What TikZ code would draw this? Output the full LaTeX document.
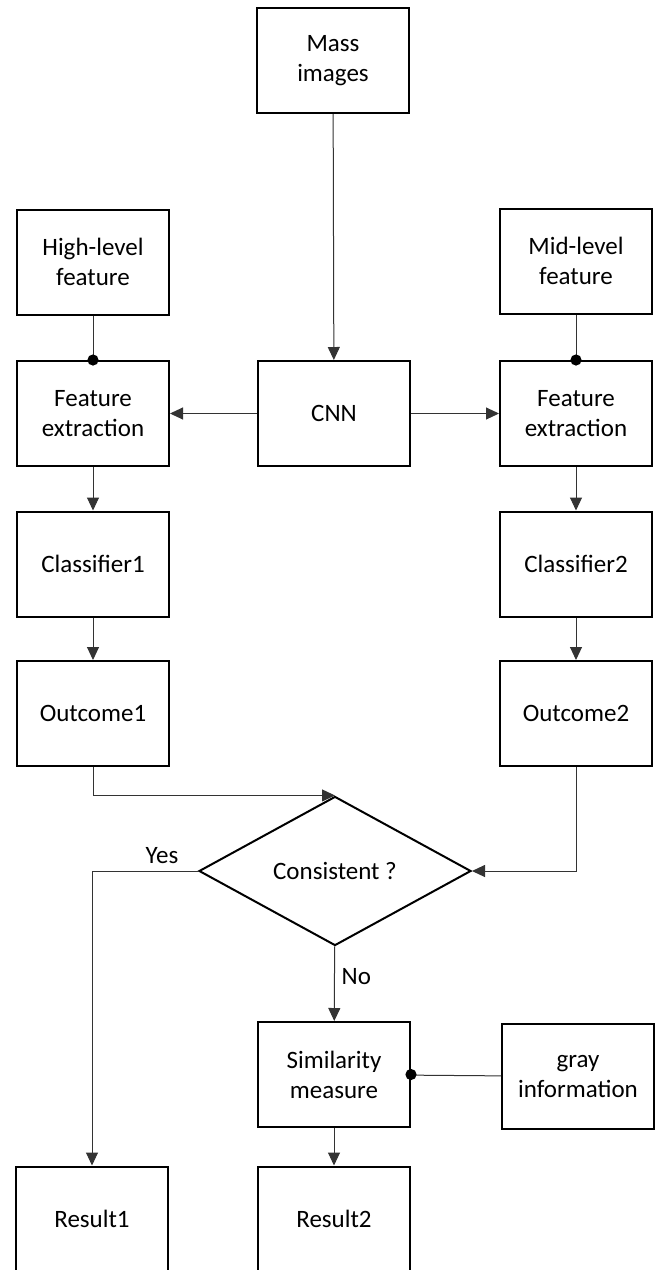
\documentclass[tikz,border=0pt]{standalone}
\usepackage{fontspec}
\setmainfont{Carlito}
\usetikzlibrary{shapes.geometric,arrows.meta}

\tikzset{
  box/.style={draw, line width=1pt, minimum width=76pt, minimum height=52.5pt, align=center, inner sep=2pt},
  decision/.style={draw, diamond, line width=1pt, minimum width=136pt, minimum height=74pt, inner sep=1pt},
  flow/.style={-{Triangle[width=6pt,length=6.5pt]}, line width=0.5pt, draw=black!80},
  link/.style={line width=0.5pt, draw=black!80},
}

\begin{document}
\begin{tikzpicture}[x=0.5pt, y=-0.5pt, font=\fontsize{12.5}{15}\selectfont]
    \useasboundingbox (0,0) rectangle (661,1270);
    \node[box] (mass) at (333,60.5) {Mass\\images};
    \node[box] (high) at (93,262) {High-level\\feature};
    \node[box] (mid) at (576,261) {Mid-level\\feature};
    \node[box] (featL) at (93,413.5) {Feature\\extraction};
    \node[box] (cnn) at (334,413.5) {CNN};
    \node[box] (featR) at (576,413.5) {Feature\\extraction};
    \node[box] (clsL) at (93,564) {Classifier1};
    \node[box] (clsR) at (576,564) {Classifier2};
    \node[box] (outL) at (93,713.5) {Outcome1};
    \node[box] (outR) at (576,713.5) {Outcome2};
    \node[decision] (cons) at (335,871) {Consistent ?};
    \node[box] (sim) at (334,1074.5) {Similarity\\measure};
    \node[box] (gray) at (578,1076.5) {gray\\information};
    \node[box] (res1) at (92,1219) {Result1};
    \node[box] (res2) at (334,1219) {Result2};
    % feeds
    \draw[flow] (mass) -- (cnn);
    \draw[flow] (cnn) -- (featL);
    \draw[flow] (cnn) -- (featR);
    \draw[link] (high) -- (featL);
    \fill (featL.north) circle (2.8pt);
    \draw[link] (mid) -- (featR);
    \fill (featR.north) circle (2.8pt);
    \draw[flow] (featL) -- (clsL);
    \draw[flow] (clsL) -- (outL);
    \draw[flow] (featR) -- (clsR);
    \draw[flow] (clsR) -- (outR);
    \draw[flow] (outL) |- (cons.north);
    \draw[flow] (outR) |- (cons.east);
    % decision
    \draw[flow] (cons.west) -| node[pos=0.17, above] {Yes} (res1);
    \draw[flow] (cons) -- node[pos=0.4, right] {No} (sim);
    \draw[link] (gray) -- (sim);
    \fill (sim.east) circle (2.8pt);
    \draw[flow] (sim) -- (res2);
\end{tikzpicture}
\end{document}
